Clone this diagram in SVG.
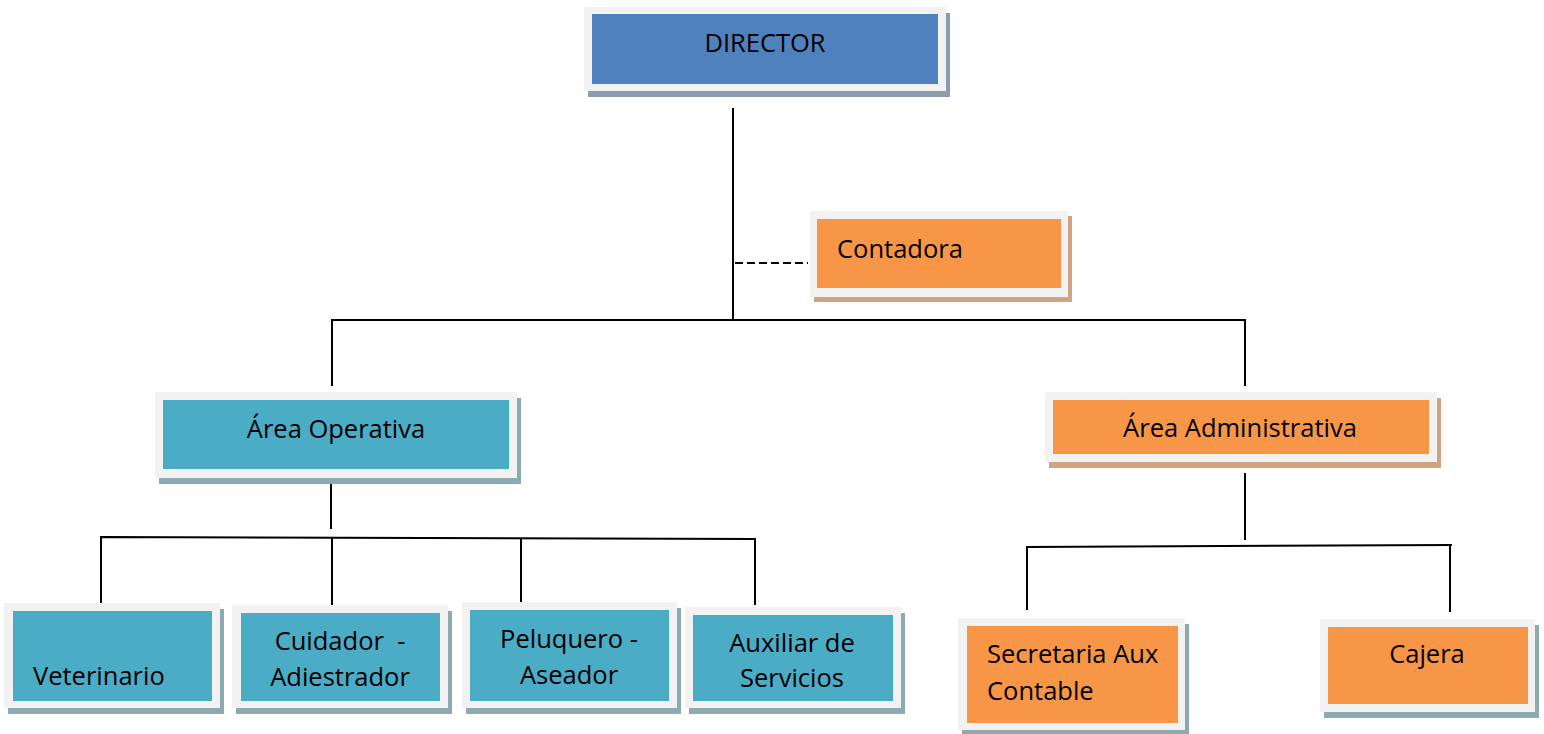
<svg xmlns="http://www.w3.org/2000/svg" width="1544" height="734" viewBox="0 0 1544 734">
<style>
.frame{fill:#f2f2f2}
.blue{fill:#4f81bd}
.teal{fill:#4bacc6}
.orange{fill:#f79646}
.shB{fill:#8c9bb0}
.shT{fill:#8eaab1}
.shO{fill:#d0a383}
text{font-family:"Open Sans","Liberation Sans",sans-serif;font-size:25.5px;fill:#000}
.c{text-anchor:middle}
.ln{stroke:#000;stroke-width:2;fill:none}
</style>
<rect width="1544" height="734" fill="#fff"/>
<g id="connectors">
<line class="ln" x1="733" y1="108" x2="733" y2="321"/>
<line class="ln" x1="735" y1="263" x2="808" y2="263" stroke-dasharray="8,4" stroke-width="3"/>
<polyline class="ln" points="332,386 332,320 1245,320 1245,386"/>
<line class="ln" x1="331" y1="463" x2="331" y2="529"/>
<polyline class="ln" points="101,603 101,537 755,539 755,605"/>
<line class="ln" x1="332" y1="538" x2="332" y2="605"/>
<line class="ln" x1="521" y1="539" x2="521" y2="603"/>
<line class="ln" x1="1245" y1="473" x2="1245" y2="540"/>
<polyline class="ln" points="1027,610 1027,547 1452,545"/>
<line class="ln" x1="1450" y1="545" x2="1450" y2="612"/>
</g>
<g id="director">
<rect class="shB" x="588" y="13" width="362" height="84"/>
<rect class="frame" x="584" y="7" width="362" height="84"/>
<rect class="blue" x="592" y="14" width="346" height="70"/>
<text class="c" x="765" y="52">DIRECTOR</text>
</g>
<g id="contadora">
<rect class="shO" x="814" y="216" width="258" height="86"/>
<rect class="frame" x="810" y="211" width="258" height="86"/>
<rect class="orange" x="817" y="219" width="244" height="69"/>
<text x="837" y="258">Contadora</text>
</g>
<g id="area-operativa">
<rect class="shT" x="159" y="398" width="362" height="86"/>
<rect class="frame" x="155" y="392" width="362" height="86"/>
<rect class="teal" x="163" y="400" width="346" height="69"/>
<text class="c" x="336" y="438">Área Operativa</text>
</g>
<g id="area-administrativa">
<rect class="shO" x="1049" y="398" width="392" height="70"/>
<rect class="frame" x="1045" y="392" width="392" height="70"/>
<rect class="orange" x="1053" y="400" width="376" height="54"/>
<text class="c" x="1240" y="437">Área Administrativa</text>
</g>
<g id="veterinario">
<rect class="shT" x="8" y="609" width="216" height="105"/>
<rect class="frame" x="4" y="603" width="216" height="105"/>
<rect class="teal" x="13" y="611" width="199" height="90"/>
<text x="33" y="685">Veterinario</text>
</g>
<g id="cuidador">
<rect class="shT" x="236" y="611" width="216" height="103"/>
<rect class="frame" x="232" y="605" width="216" height="103"/>
<rect class="teal" x="241" y="613" width="199" height="88"/>
<text class="c" x="340" y="650" xml:space="preserve">Cuidador  -</text>
<text class="c" x="340" y="686">Adiestrador</text>
</g>
<g id="peluquero">
<rect class="shT" x="466" y="608" width="215" height="106"/>
<rect class="frame" x="462" y="602" width="215" height="106"/>
<rect class="teal" x="470" y="610" width="199" height="91"/>
<text class="c" x="569" y="648">Peluquero -</text>
<text class="c" x="569" y="684">Aseador</text>
</g>
<g id="auxiliar">
<rect class="shT" x="689" y="613" width="216" height="101"/>
<rect class="frame" x="685" y="607" width="216" height="101"/>
<rect class="teal" x="693" y="615" width="200" height="86"/>
<text class="c" x="792" y="652">Auxiliar de</text>
<text class="c" x="792" y="687">Servicios</text>
</g>
<g id="secretaria">
<rect class="shT" x="962" y="624" width="227" height="112"/>
<rect class="frame" x="958" y="618" width="227" height="112"/>
<rect class="orange" x="967" y="626" width="211" height="97"/>
<text x="987" y="663">Secretaria Aux</text>
<text x="987" y="700">Contable</text>
</g>
<g id="cajera">
<rect class="shT" x="1324" y="625" width="215" height="93"/>
<rect class="frame" x="1320" y="619" width="215" height="93"/>
<rect class="orange" x="1328" y="627" width="200" height="77"/>
<text class="c" x="1427" y="663">Cajera</text>
</g>
</svg>
